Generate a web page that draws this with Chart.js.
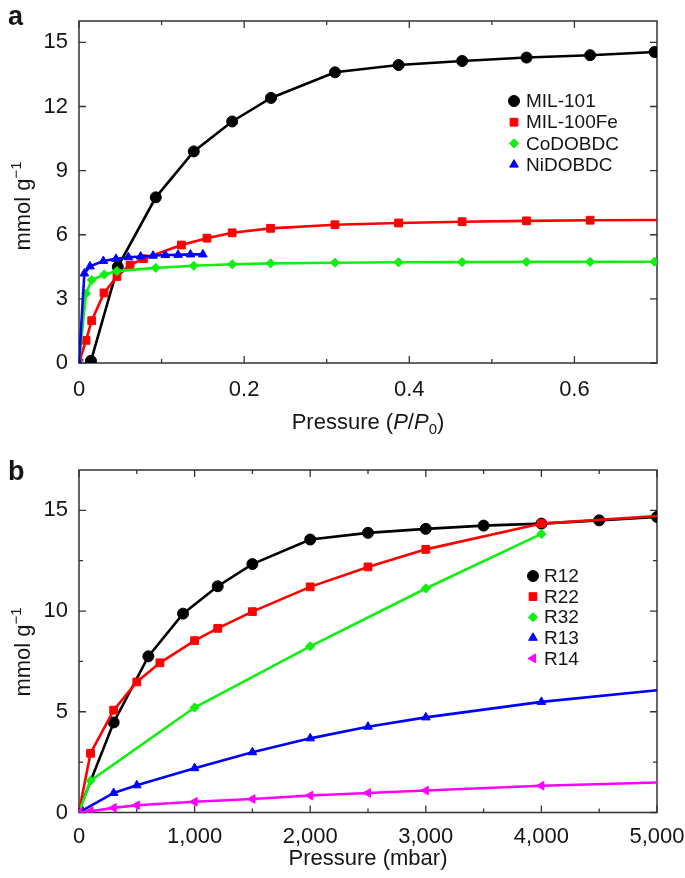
<!DOCTYPE html>
<html><head><meta charset="utf-8">
<script src="https://cdn.jsdelivr.net/npm/chart.js@4/dist/chart.umd.min.js"></script>
<style>
html,body{margin:0;padding:0;background:#fff;}
#wrap{position:relative;width:685px;height:878px;overflow:hidden;}
.box{position:absolute;left:0;width:685px;}
canvas{display:block;}
</style></head><body>
<div id="wrap">
<div class="box" style="top:0;height:440px"><canvas id="ca" width="685" height="440"></canvas></div>
<div class="box" style="top:440px;height:438px"><canvas id="cb" width="685" height="438"></canvas></div>
</div>
<script>
// ---------- Panel a data ----------
const aLabels = ['MIL-101', 'MIL-100Fe', 'CoDOBDC', 'NiDOBDC'];
const aMil101X = [0.0145, 0.047, 0.093, 0.139, 0.1855, 0.2325, 0.31, 0.387, 0.464, 0.542, 0.619, 0.697];
const aMil101Y = [0.1, 4.5, 7.75, 9.9, 11.3, 12.4, 13.6, 13.94, 14.13, 14.29, 14.4, 14.55];
const aMil100X = [0, 0.0085, 0.0154, 0.0303, 0.046, 0.0618, 0.078, 0.124, 0.155, 0.1855, 0.232, 0.31, 0.387, 0.464, 0.542, 0.619, 0.7];
const aMil100Y = [0, 1.06, 1.98, 3.28, 4.05, 4.58, 4.88, 5.52, 5.84, 6.09, 6.3, 6.47, 6.55, 6.61, 6.65, 6.68, 6.69];
const aCoX = [0, 0.0085, 0.0154, 0.0307, 0.046, 0.093, 0.139, 0.1855, 0.232, 0.31, 0.387, 0.464, 0.542, 0.619, 0.697];
const aCoY = [0, 3.25, 3.88, 4.14, 4.3, 4.45, 4.55, 4.62, 4.66, 4.69, 4.71, 4.72, 4.73, 4.73, 4.74];
const aNiX = [0, 0.0065, 0.0133, 0.0295, 0.0448, 0.0598, 0.0747, 0.0897, 0.1046, 0.12, 0.135, 0.15];
const aNiY = [0, 4.19, 4.52, 4.77, 4.87, 4.95, 4.98, 5.02, 5.05, 5.06, 5.08, 5.08];
const aXTicks = [0, 0.2, 0.4, 0.6];
const aXTickLabels = ['0', '0.2', '0.4', '0.6'];
const aXMinor = [0.1, 0.3, 0.5];
const aYTicks = [0, 3, 6, 9, 12, 15];
const aYTickLabels = ['0', '3', '6', '9', '12', '15'];
const aYMinor = [];

// ---------- Panel b data ----------
const bLabels = ['R12', 'R22', 'R32', 'R13', 'R14'];
const bR12X = [0, 300, 600, 900, 1200, 1500, 2000, 2500, 3000, 3500, 4000, 4500, 5000];
const bR12Y = [0.1, 4.47, 7.75, 9.87, 11.23, 12.33, 13.55, 13.88, 14.08, 14.24, 14.34, 14.5, 14.67];
const bR22X = [0, 100, 300, 500, 700, 1000, 1200, 1500, 2000, 2500, 3000, 4000, 5000];
const bR22Y = [0.05, 2.94, 5.08, 6.48, 7.43, 8.53, 9.14, 9.97, 11.2, 12.19, 13.06, 14.34, 14.72];
const bR32X = [0, 100, 1000, 2000, 3000, 4000];
const bR32Y = [0, 1.58, 5.21, 8.25, 11.12, 13.83];
const bR13X = [0, 300, 500, 1000, 1500, 2000, 2500, 3000, 4000, 5000];
const bR13Y = [0, 0.97, 1.35, 2.2, 2.99, 3.68, 4.26, 4.72, 5.49, 6.07];
const bR14X = [0, 100, 300, 500, 1000, 1500, 2000, 2500, 3000, 4000, 5000];
const bR14Y = [0, 0.06, 0.23, 0.36, 0.53, 0.67, 0.84, 0.97, 1.09, 1.33, 1.49];
const bXTicks = [0, 1000, 2000, 3000, 4000, 5000];
const bXTickLabels = ['0', '1,000', '2,000', '3,000', '4,000', '5,000'];
const bXMinor = [500, 1500, 2500, 3500, 4500];
const bYTicks = [0, 5, 10, 15];
const bYTickLabels = ['0', '5', '10', '15'];
const bYMinor = [2.5, 7.5, 12.5];

// ---------- styling ----------
const FONT = '"Liberation Sans", Arial, Helvetica, sans-serif';
Chart.defaults.font.family = FONT;
const TXT = '#151515';
const FRAME = '#333';

function pts(xs, ys) { return xs.map((x, i) => ({ x: x, y: ys[i] })); }
function radii(xs, r, hideLast) { return xs.map((_, i) => (hideLast && i === xs.length - 1) ? 0 : r); }
function ds(label, xs, ys, color, style, r, order, hideLast, rot) {
  return {
    label: label, data: pts(xs, ys), showLine: true, borderColor: color, backgroundColor: color,
    borderWidth: 2.6, pointStyle: style, pointRadius: radii(xs, r, hideLast), pointRotation: rot || 0,
    pointBackgroundColor: color, pointBorderColor: color, pointBorderWidth: 1, order: order,
    legendRadius: r, tension: 0, fill: false
  };
}

function drawMarker(ctx, style, r, rot, x, y) {
  if (Chart.helpers && Chart.helpers.drawPoint) {
    Chart.helpers.drawPoint(ctx, { pointStyle: style, radius: r, rotation: rot, borderWidth: 1 }, x, y);
    return;
  }
  ctx.beginPath(); ctx.arc(x, y, r, 0, Math.PI * 2); ctx.fill();
}

function richWidth(ctx, parts) {
  let w = 0;
  parts.forEach(p => { ctx.font = p.font; w += ctx.measureText(p.t).width; });
  return w;
}
function drawRich(ctx, parts, cx, baseY) {
  const w = richWidth(ctx, parts);
  let x = cx - w / 2;
  ctx.textAlign = 'left'; ctx.textBaseline = 'alphabetic';
  parts.forEach(p => { ctx.font = p.font; ctx.fillText(p.t, x, baseY + (p.dy || 0)); x += ctx.measureText(p.t).width; });
}

const N = '22px ' + FONT, I = 'italic 22px ' + FONT, S = '15px ' + FONT;

const decor = {
  id: 'decor',
  beforeDatasetsDraw(chart, args, o) {
    const { ctx, chartArea: a, scales: { x, y } } = chart;
    ctx.save();
    ctx.strokeStyle = FRAME; ctx.lineWidth = 1.5;
    ctx.strokeRect(a.left, a.top, a.right - a.left, a.bottom - a.top);
    ctx.lineWidth = 1.3;
    ctx.beginPath();
    const xt = (vals, len) => vals.forEach(v => {
      const p = x.getPixelForValue(v);
      ctx.moveTo(p, a.bottom); ctx.lineTo(p, a.bottom - len);
      ctx.moveTo(p, a.top); ctx.lineTo(p, a.top + len);
    });
    const yt = (vals, len) => vals.forEach(v => {
      const p = y.getPixelForValue(v);
      ctx.moveTo(a.left, p); ctx.lineTo(a.left + len, p);
      ctx.moveTo(a.right, p); ctx.lineTo(a.right - len, p);
    });
    xt(o.xMajor, 7); xt(o.xMinor, 4); yt(o.yMajor, 7); yt(o.yMinor, 4);
    ctx.stroke();
    ctx.restore();
  },
  afterDraw(chart, args, o) {
    const { ctx } = chart;
    ctx.save();
    ctx.fillStyle = TXT;
    ctx.font = 'bold 27px ' + FONT; ctx.textAlign = 'left'; ctx.textBaseline = 'alphabetic';
    ctx.fillText(o.letter, 8, o.letterY);
    drawRich(ctx, o.xTitle, o.xTitleX, o.xTitleY);
    ctx.save();
    ctx.translate(o.yTitleX, o.yTitleY);
    ctx.rotate(-Math.PI / 2);
    drawRich(ctx, [{ t: 'mmol g', font: N }, { t: '\u22121', font: S, dy: -9 }], 0, 0);
    ctx.restore();
    const L = o.legend;
    chart.data.datasets.forEach((d, i) => {
      const yy = L.y + i * L.dy;
      ctx.fillStyle = d.borderColor; ctx.strokeStyle = d.borderColor; ctx.lineWidth = 1;
      drawMarker(ctx, d.pointStyle, d.legendRadius, d.pointRotation, L.x, yy);
      ctx.fillStyle = TXT;
      ctx.font = '19px ' + FONT; ctx.textAlign = 'left'; ctx.textBaseline = 'middle';
      ctx.fillText(d.label, L.tx, yy + 1);
    });
    ctx.restore();
  }
};

function axes(xmin, xmax, xt, xl, ymin, ymax, yt, yl, xh, yw, xpad) {
  return {
    x: {
      type: 'linear', min: xmin, max: xmax,
      grid: { display: false, drawTicks: false }, border: { display: false },
      afterBuildTicks: s => { s.ticks = xt.map(v => ({ value: v })); },
      afterFit: s => { s.height = xh; s.paddingLeft = 0; s.paddingRight = 0; },
      ticks: { autoSkip: false, maxRotation: 0, padding: xpad, color: TXT, font: { size: 22 },
        callback: (v, i) => xl[i] }
    },
    y: {
      type: 'linear', min: ymin, max: ymax,
      grid: { display: false, drawTicks: false }, border: { display: false },
      afterBuildTicks: s => { s.ticks = yt.map(v => ({ value: v })); },
      afterFit: s => { s.width = yw; s.paddingTop = 0; s.paddingBottom = 0; },
      ticks: { autoSkip: false, padding: 11, color: TXT, font: { size: 22 },
        callback: (v, i) => yl[i] }
    }
  };
}

const common = {
  responsive: false, animation: false, events: [],
  plugins: { legend: { display: false }, tooltip: { enabled: false } }
};

new Chart(document.getElementById('ca'), {
  type: 'scatter',
  data: {
    datasets: [
      ds(aLabels[0], aMil101X, aMil101Y, '#000000', 'circle', 5.5, 4, false),
      ds(aLabels[1], aMil100X, aMil100Y, '#ff0000', 'rect', 5.5, 3, true),
      ds(aLabels[2], aCoX, aCoY, '#11ee11', 'rectRot', 4.6, 2, false),
      ds(aLabels[3], aNiX, aNiY, '#0000ff', 'triangle', 5, 1, false)
    ]
  },
  options: Object.assign({}, common, {
    layout: { padding: { left: 0, top: 21, right: 28, bottom: 0 } },
    scales: axes(0, 0.7, aXTicks, aXTickLabels, 0, 16, aYTicks, aYTickLabels, 77, 79, 14),
    plugins: Object.assign({}, common.plugins, {
      decor: {
        letter: 'a', letterY: 25,
        xMajor: aXTicks, xMinor: aXMinor, yMajor: aYTicks, yMinor: aYMinor,
        xTitle: [{ t: 'Pressure (', font: N }, { t: 'P', font: I }, { t: '/', font: N }, { t: 'P', font: I },
                 { t: '0', font: S, dy: 5 }, { t: ')', font: N }],
        xTitleX: 368, xTitleY: 429,
        yTitleX: 30, yTitleY: 206,
        legend: { x: 514, tx: 526, y: 101, dy: 21.2 }
      }
    })
  }),
  plugins: [decor]
});

new Chart(document.getElementById('cb'), {
  type: 'scatter',
  data: {
    datasets: [
      ds(bLabels[0], bR12X, bR12Y, '#000000', 'circle', 5.5, 5, false),
      ds(bLabels[1], bR22X, bR22Y, '#ff0000', 'rect', 5.5, 4, true),
      ds(bLabels[2], bR32X, bR32Y, '#11ee11', 'rectRot', 4.6, 3, false),
      ds(bLabels[3], bR13X, bR13Y, '#0000ff', 'triangle', 5, 2, true),
      ds(bLabels[4], bR14X, bR14Y, '#ff00ff', 'triangle', 5, 1, true, -90)
    ]
  },
  options: Object.assign({}, common, {
    layout: { padding: { left: 0, top: 30, right: 28, bottom: 0 } },
    scales: axes(0, 5000, bXTicks, bXTickLabels, 0, 17, bYTicks, bYTickLabels, 65.5, 79, 11),
    plugins: Object.assign({}, common.plugins, {
      decor: {
        letter: 'b', letterY: 40,
        xMajor: bXTicks, xMinor: bXMinor, yMajor: bYTicks, yMinor: bYMinor,
        xTitle: [{ t: 'Pressure (mbar)', font: N }],
        xTitleX: 368, xTitleY: 425,
        yTitleX: 30, yTitleY: 212,
        legend: { x: 533, tx: 544, y: 136, dy: 20.6 }
      }
    })
  }),
  plugins: [decor]
});
</script>
</body></html>
